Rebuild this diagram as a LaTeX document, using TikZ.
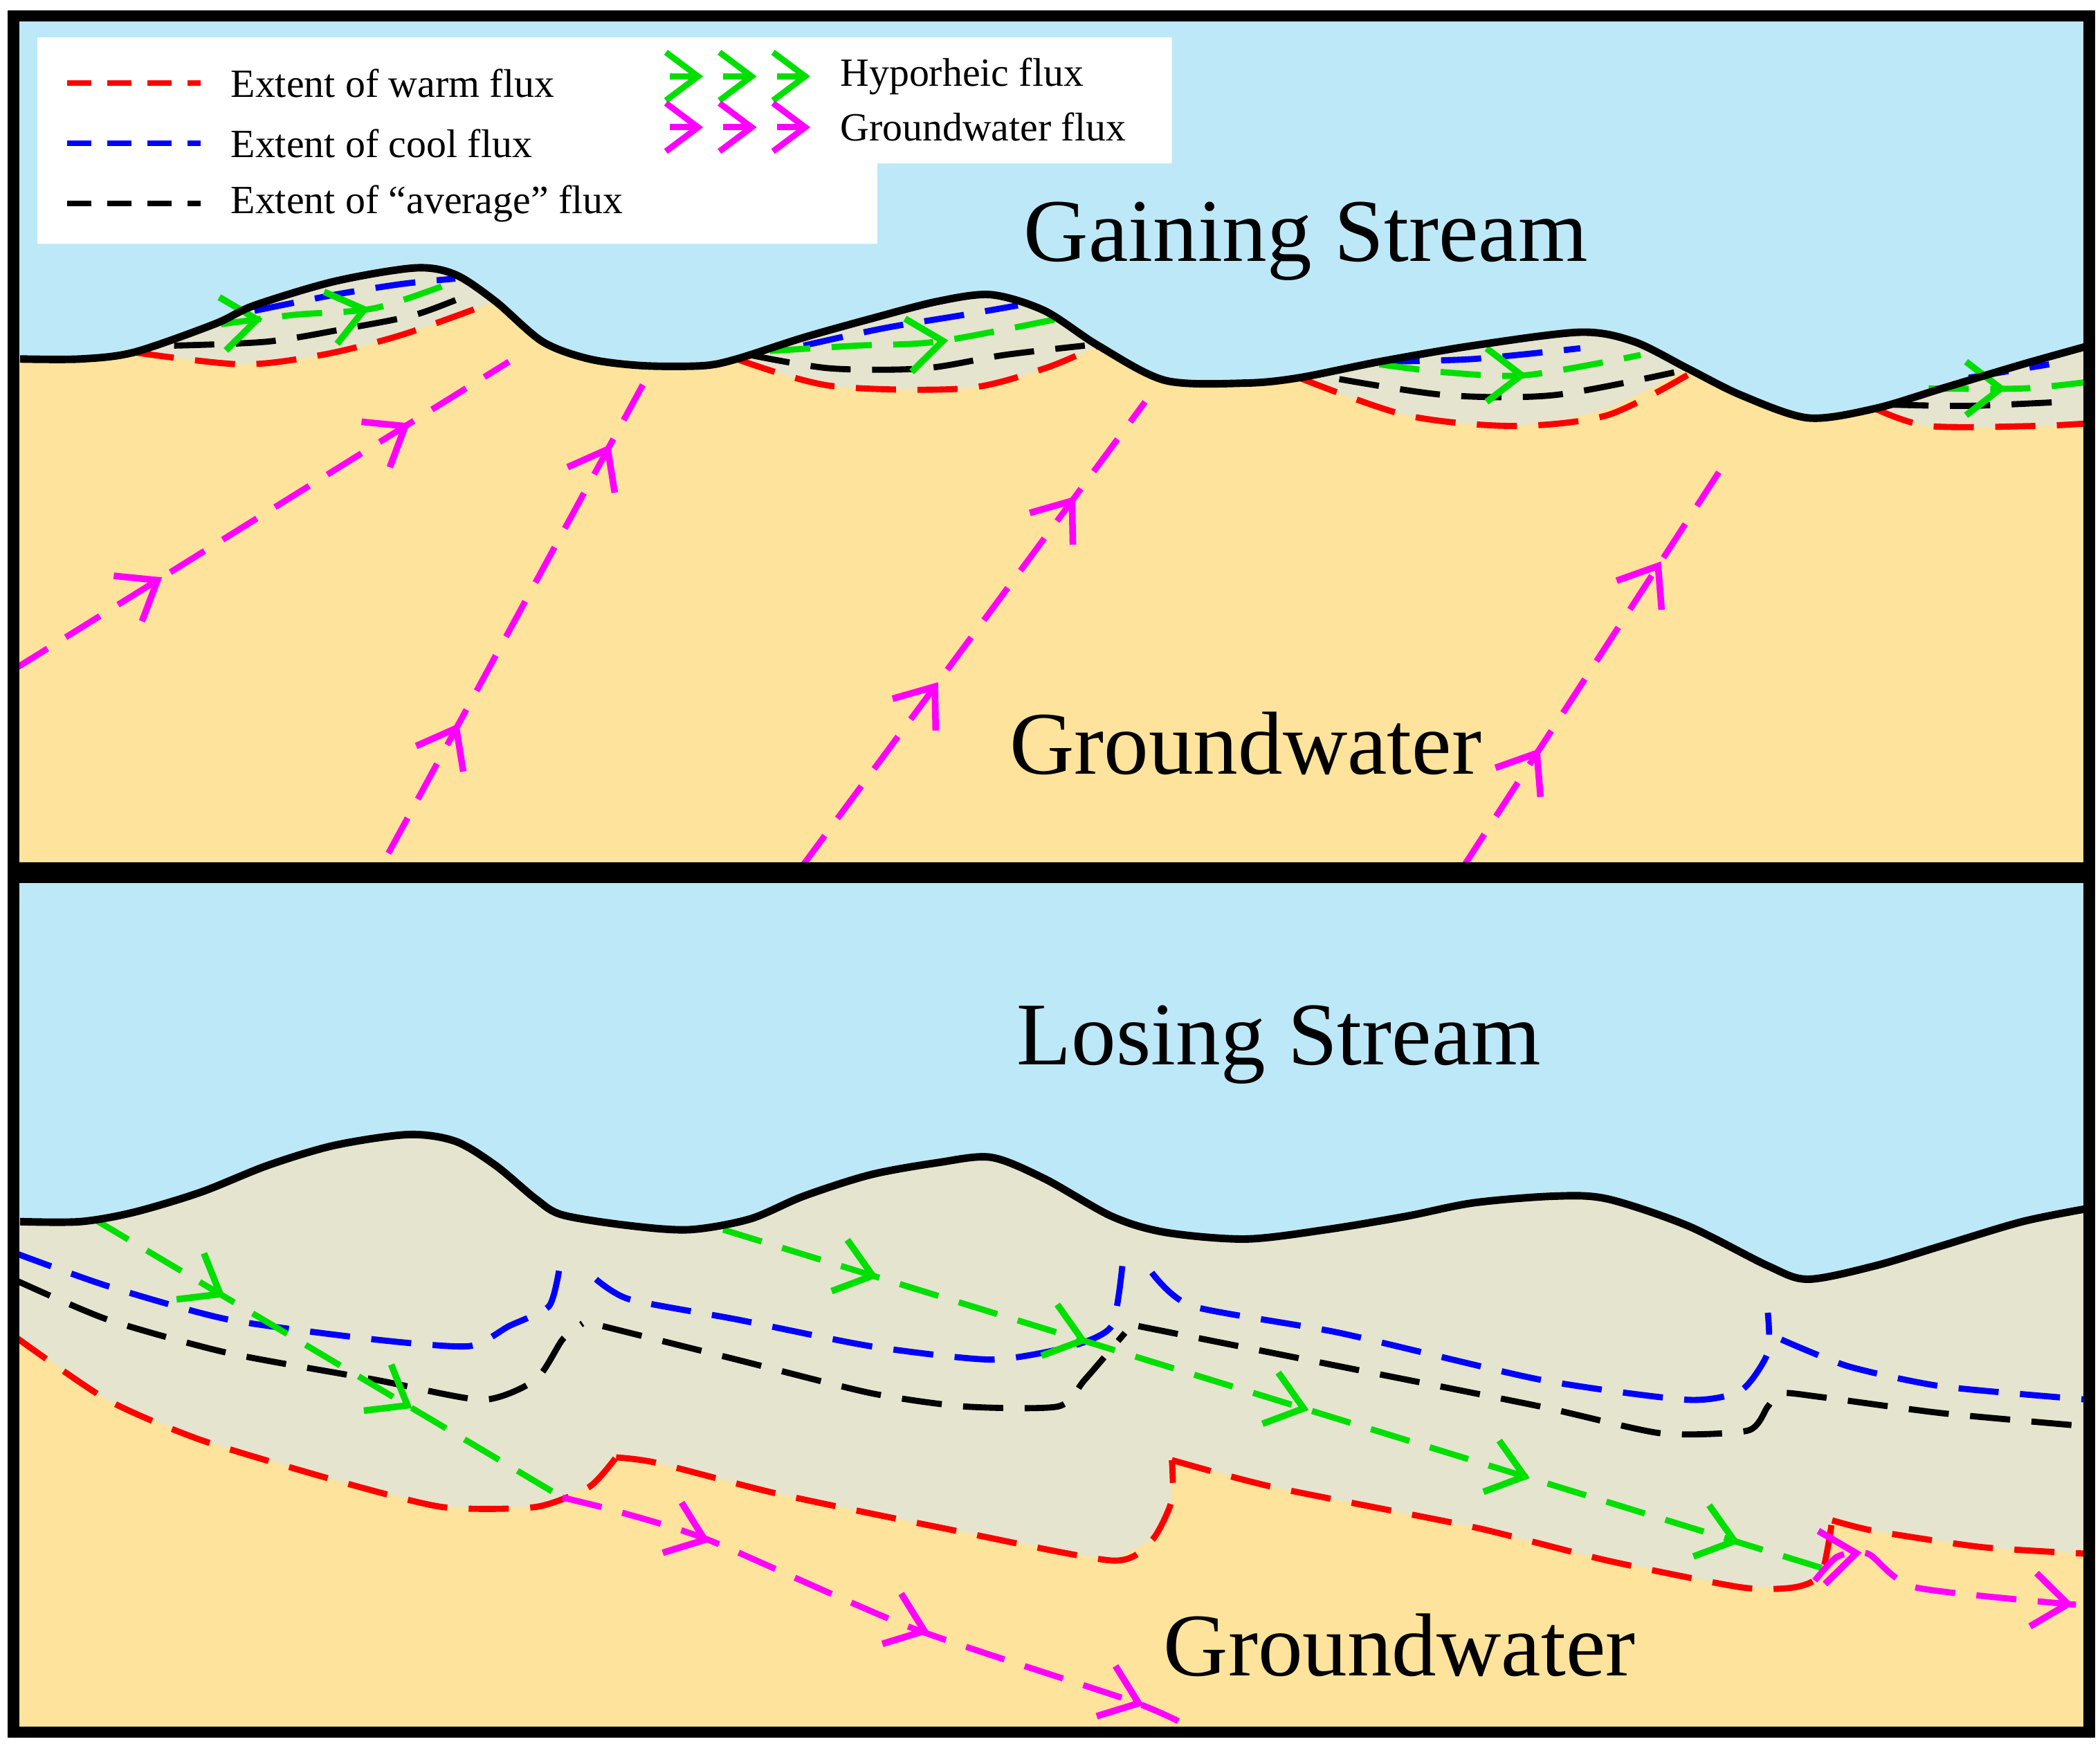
\documentclass[tikz,border=0pt]{standalone}
\usepackage{fontspec}
\setmainfont{Liberation Serif}
\usetikzlibrary{arrows.meta,decorations.markings}
\definecolor{sky}{HTML}{BDE8F7}
\definecolor{sand}{HTML}{FDE39B}
\definecolor{zone}{HTML}{E5E4CF}
\definecolor{mag}{HTML}{FF00FF}
\definecolor{grn}{HTML}{00E000}
\tikzset{
 dl/.style={line width=1.3pt,dash pattern=on 3mm off 1.6mm},
 sdl/.style={line width=1.1pt,dash pattern=on 1.8mm off 1.2mm},
 gl/.style={line width=1.6pt,black,line join=round},
 ar/.style={postaction={decorate,decoration={markings,mark=at position #1 with {\arrow[solid]{Straight Barb[length=2.6mm,width=4mm,line width=1.4pt]}}}}},
 tip/.style={solid,line width=1.4pt,-{Straight Barb[length=2.6mm,width=4mm]}},
 lab/.style={font=\fontsize{8.5}{10}\selectfont,anchor=west},
 big/.style={font=\fontsize{19}{22}\selectfont}
}
\begin{document}
\begin{tikzpicture}[x=0.1mm,y=-0.1mm]
\useasboundingbox (0,0) rectangle (1568,1303);
% ---------- TOP PANEL
\begin{scope}
\clip (10,12) rectangle (1560,648);
\fill[sand] (10,12) rectangle (1560,648);
\fill[sky] (10,12) -- (10,268) -- plot[smooth,tension=0.5] coordinates {(15,268) (60,268) (100,263) (160,242) (190,228) (250,210) (310,200) (340,205) (370,225) (405,255) (440,268) (480,273) (525,273) (550,268) (600,252) (650,238) (700,225) (740,220) (780,232) (820,258) (870,284) (930,286) (970,282) (1030,270) (1100,258) (1180,248) (1220,255) (1260,275) (1300,295) (1350,312) (1400,305) (1450,290) (1510,272) (1560,258)} -- (1560,12) -- cycle;
% zones
\fill[zone] plot[smooth,tension=0.5] coordinates {(100,263) (160,242) (190,228) (250,210) (310,200) (340,205) (370,225)} -- plot[smooth] coordinates {(370,225) (300,250) (240,265) (180,272) (100,263)} -- cycle;
\fill[zone] plot[smooth,tension=0.5] coordinates {(550,268) (600,252) (650,238) (700,225) (740,220) (780,232) (820,258)} -- plot[smooth] coordinates {(820,258) (780,275) (720,290) (620,288) (550,268)} -- cycle;
\fill[zone] plot[smooth,tension=0.5] coordinates {(970,282) (1030,270) (1100,258) (1180,248) (1220,255) (1260,275)} -- plot[smooth] coordinates {(1260,275) (1200,305) (1130,318) (1050,310) (970,282)} -- cycle;
\fill[zone] plot[smooth,tension=0.5] coordinates {(1400,305) (1450,290) (1510,272) (1560,258)} -- (1560,318) -- plot[smooth] coordinates {(1520,318) (1440,318) (1400,305)} -- cycle;
% red
\draw[dl,red] plot[smooth] coordinates {(100,263) (180,272) (240,265) (300,250) (370,225)};
\draw[dl,red] plot[smooth] coordinates {(550,268) (620,288) (720,290) (780,275) (820,258)};
\draw[dl,red] plot[smooth] coordinates {(970,282) (1050,310) (1130,318) (1200,310) (1260,280)};
\draw[dl,red] plot[smooth] coordinates {(1400,305) (1440,318) (1520,318) (1560,316)};
% black
\draw[dl,black] plot[smooth] coordinates {(130,258) (200,255) (260,245) (310,235) (350,220)};
\draw[dl,black] plot[smooth] coordinates {(560,265) (620,275) (690,275) (750,265) (810,258)};
\draw[dl,black] plot[smooth] coordinates {(1000,283) (1080,295) (1160,295) (1250,278)};
\draw[dl,black] plot[smooth] coordinates {(1410,302) (1470,303) (1540,300)};
% blue
\draw[dl,blue] plot[smooth] coordinates {(190,232) (250,220) (300,212) (340,208)};
\draw[dl,blue] plot[smooth] coordinates {(600,258) (660,245) (720,235) (760,228)};
\draw[dl,blue] plot[smooth] coordinates {(1030,270) (1100,268) (1180,260)};
\draw[dl,blue] plot[smooth] coordinates {(1470,282) (1530,272)};
% green
\draw[dl,grn] plot[smooth] coordinates {(165,242) (220,235) (280,230) (340,210)};
\draw[grn,tip] (188,239) -- (196,238);
\draw[grn,tip] (268,232) -- (276,230);
\draw[dl,grn] plot[smooth] coordinates {(575,262) (640,258) (700,255) (790,238)};
\draw[grn,tip] (700,255) -- (708,254);
\draw[dl,grn] plot[smooth] coordinates {(1030,272) (1080,278) (1140,280) (1225,265)};
\draw[grn,tip] (1132,280) -- (1140,280);
\draw[dl,grn] plot[smooth] coordinates {(1440,290) (1510,290) (1560,285)};
\draw[grn,tip] (1490,290) -- (1498,290);
% ground line
\draw[gl] plot[smooth,tension=0.5] coordinates {(15,268) (60,268) (100,263) (160,242) (190,228) (250,210) (310,200) (340,205) (370,225) (405,255) (440,268) (480,273) (525,273) (550,268) (600,252) (650,238) (700,225) (740,220) (780,232) (820,258) (870,284) (930,286) (970,282) (1030,270) (1100,258) (1180,248) (1220,255) (1260,275) (1300,295) (1350,312) (1400,305) (1450,290) (1510,272) (1560,258)};
% groundwater flux
\draw[dl,mag,ar=0.3,ar=0.8] (10,500) -- (380,270);
\draw[dl,mag,ar=0.27,ar=0.85] (290,637) -- (485,278);
\draw[dl,mag,ar=0.4,ar=0.8] (598,648) -- (855,300);
\draw[dl,mag,ar=0.3,ar=0.77] (1092,648) -- (1285,350);
% legend
\fill[white] (28,28) rectangle (875,122) (28,122) rectangle (655,182);
\draw[sdl,red] (50,62) -- (150,62);
\draw[sdl,blue] (50,107) -- (150,107);
\draw[sdl,black] (50,152) -- (150,152);
\node[lab] (lw) at (160,62) {Extent of warm flux};
\node[lab] (lc) at (160,107) {Extent of cool flux};
\node[lab] (la) at (160,152) {Extent of “average” flux};
\foreach \x in {500,540,580}{
 \draw[grn,line width=1.3pt,-{Straight Barb[length=2.4mm,width=3.6mm]}] (\x,57) -- (\x+25,57);
 \draw[mag,line width=1.3pt,-{Straight Barb[length=2.4mm,width=3.6mm]}] (\x,95) -- (\x+25,95);}
\node[lab] (lh) at (615,57) {Hyporheic flux};
\node[lab] (lg) at (615,95) {Groundwater flux};
\node[big] (gs) at (975,180) {Gaining Stream};
\node[big] (gw1) at (930,555) {Groundwater};
\end{scope}
\draw[line width=2.4pt] (10,12) rectangle (1560,648);
% ---------- BOTTOM PANEL
\begin{scope}
\clip (10,655) rectangle (1560,1293);
\fill[sand] (10,655) rectangle (1560,1293);
\fill[sky] (10,655) -- (10,912) -- plot[smooth,tension=0.5] coordinates {(15,912) (60,912) (100,905) (150,890) (200,870) (250,855) (305,847) (340,852) (370,870) (400,895) (420,907) (470,915) (515,918) (560,910) (600,893) (650,877) (700,868) (740,864) (780,880) (830,908) (870,920) (930,925) (990,918) (1050,908) (1100,898) (1160,893) (1200,895) (1260,915) (1320,945) (1350,955) (1400,945) (1450,930) (1510,912) (1560,902)} -- (1560,655) -- cycle;
\fill[zone] plot[smooth,tension=0.5] coordinates {(15,912) (60,912) (100,905) (150,890) (200,870) (250,855) (305,847) (340,852) (370,870) (400,895) (420,907) (470,915) (515,918) (560,910) (600,893) (650,877) (700,868) (740,864) (780,880) (830,908) (870,920) (930,925) (990,918) (1050,908) (1100,898) (1160,893) (1200,895) (1260,915) (1320,945) (1350,955) (1400,945) (1450,930) (1510,912) (1560,902)} -- (1560,1160) -- (1480,1155) -- (1400,1143) -- (1368,1135) -- (1360,1175) -- (1340,1185) -- (1300,1185) -- (1200,1165) -- (1100,1140) -- (950,1110) -- (875,1090) -- (875,1120) -- (860,1150) -- (830,1165) -- (700,1140) -- (580,1115) -- (490,1092) -- (460,1088) -- (440,1110) -- (400,1125) -- (330,1125) -- (250,1105) -- (150,1075) -- (80,1045) -- (10,997) -- cycle;
\draw[dl,red] plot[smooth,tension=0.4] coordinates {(10,997) (80,1045) (150,1075) (250,1105) (330,1125) (400,1125) (440,1110) (460,1088)};
\draw[dl,red] plot[smooth,tension=0.4] coordinates {(460,1088) (490,1092) (580,1115) (700,1140) (830,1165) (860,1150) (875,1120) (875,1090)};
\draw[dl,red] plot[smooth,tension=0.4] coordinates {(875,1090) (950,1110) (1100,1140) (1200,1165) (1300,1185) (1340,1185) (1360,1175) (1368,1135)};
\draw[dl,red] plot[smooth,tension=0.4] coordinates {(1368,1135) (1400,1143) (1480,1155) (1560,1160)};
\draw[dl,blue] plot[smooth,tension=0.4] coordinates {(10,935) (80,960) (170,985) (280,1000) (350,1005) (380,990) (410,975) (418,945)};
\draw[dl,blue] plot[smooth,tension=0.4] coordinates {(445,955) (470,970) (550,985) (650,1005) (740,1015) (800,1005) (830,990) (838,945)};
\draw[dl,blue] plot[smooth,tension=0.4] coordinates {(860,950) (890,975) (1000,995) (1150,1030) (1260,1045) (1300,1038) (1320,1010) (1320,980)};
\draw[dl,blue] plot[smooth,tension=0.4] coordinates {(1330,1000) (1380,1020) (1450,1035) (1560,1045)};
\draw[dl,black] plot[smooth,tension=0.4] coordinates {(10,955) (80,985) (170,1010) (280,1030) (360,1045) (400,1030) (420,1000) (435,988)};
\draw[dl,black] plot[smooth,tension=0.4] coordinates {(450,990) (550,1015) (650,1040) (720,1050) (790,1050) (810,1030) (840,995)};
\draw[dl,black] plot[smooth,tension=0.4] coordinates {(850,990) (1000,1020) (1150,1050) (1240,1070) (1305,1068) (1320,1050) (1330,1040) (1360,1043) (1450,1055) (1560,1065)};
\draw[dl,grn,ar=0.28,ar=0.68] (70,910) -- (420,1118);
\draw[dl,grn,ar=0.14,ar=0.33,ar=0.53,ar=0.73,ar=0.92] (540,918) -- (1365,1172);
\draw[dl,mag] plot[smooth,tension=0.4] coordinates {(420,1118) (460,1128) (530,1150) (680,1215) (845,1270) (890,1290)};
\draw[mag,tip] (522,1148) -- (530,1151);
\draw[mag,tip] (686,1216) -- (694,1219);
\draw[mag,tip] (846,1270) -- (854,1273);
\draw[dl,mag] plot[smooth,tension=0.4] coordinates {(1355,1180) (1372,1162) (1395,1160) (1430,1185) (1550,1198)};
\draw[mag,tip] (1382,1160) -- (1390,1159);
\draw[mag,tip] (1540,1197) -- (1548,1198);
\draw[gl] plot[smooth,tension=0.5] coordinates {(15,912) (60,912) (100,905) (150,890) (200,870) (250,855) (305,847) (340,852) (370,870) (400,895) (420,907) (470,915) (515,918) (560,910) (600,893) (650,877) (700,868) (740,864) (780,880) (830,908) (870,920) (930,925) (990,918) (1050,908) (1100,898) (1160,893) (1200,895) (1260,915) (1320,945) (1350,955) (1400,945) (1450,930) (1510,912) (1560,902)};
\node[big] (ls) at (955,780) {Losing Stream};
\node[big] (gw2) at (1045,1228) {Groundwater};
\end{scope}
\draw[line width=2.4pt] (10,655) rectangle (1560,1293);
\end{tikzpicture}
\end{document}
